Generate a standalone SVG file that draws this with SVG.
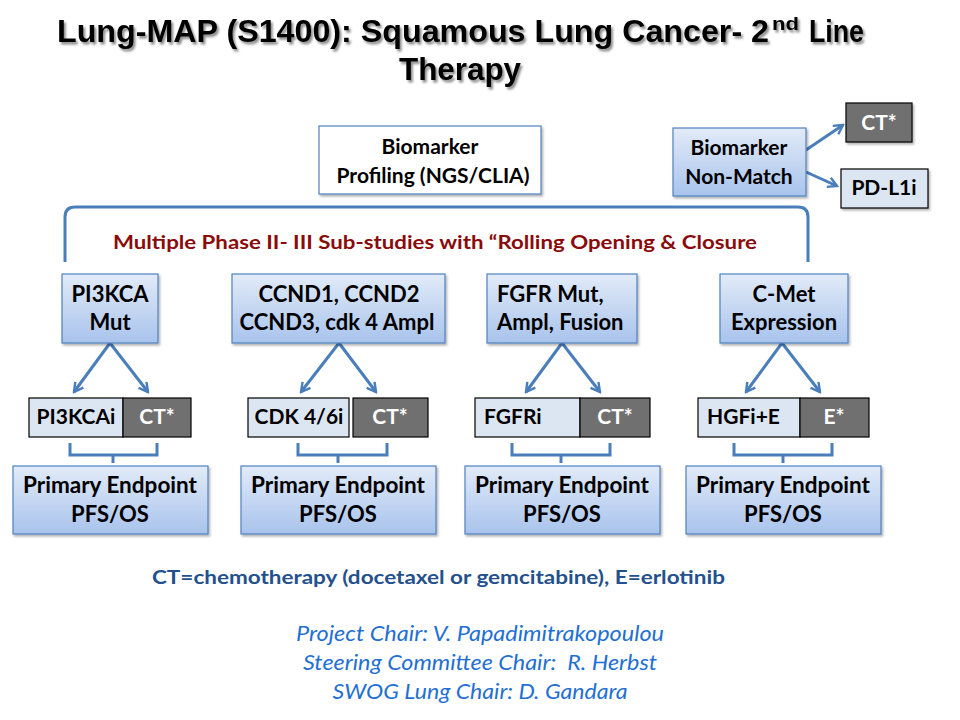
<svg xmlns="http://www.w3.org/2000/svg" width="960" height="720" viewBox="0 0 960 720">
<defs>
<linearGradient id="gb" x1="0" y1="0" x2="0" y2="1">
<stop offset="0" stop-color="#e2ebf8"/>
<stop offset="1" stop-color="#a8c3ec"/>
</linearGradient>
<filter id="sh" x="-10%" y="-10%" width="130%" height="140%">
<feDropShadow dx="1.5" dy="2" stdDeviation="1.2" flood-color="#000" flood-opacity="0.3"/>
</filter>
<filter id="tsh" x="-5%" y="-20%" width="110%" height="150%">
<feDropShadow dx="2" dy="2.5" stdDeviation="1" flood-color="#000" flood-opacity="0.45"/>
</filter>
<marker id="ah" viewBox="0 0 12 12" refX="10" refY="6" markerWidth="12" markerHeight="12" markerUnits="userSpaceOnUse" orient="auto">
<path d="M1,1 L10,6 L1,11" fill="none" stroke="#4a7ebb" stroke-width="2.4" stroke-linejoin="miter"/>
</marker>
<style>
.t{font-family:"Lato","Liberation Sans",sans-serif;font-weight:bold;font-size:21px;fill:#000;text-anchor:middle}
.l{font-size:22px}
.s{text-anchor:start}
.w{fill:#fff}
.blue{fill:url(#gb);stroke:#4f81bd;stroke-width:1.2}
.wh{fill:#fff;stroke:#4f81bd;stroke-width:1.2}
.lt{fill:#dce6f2;stroke:#000;stroke-width:1.2}
.dk{fill:#707070;stroke:#000;stroke-width:1.2}
.con{fill:none;stroke:#4a7ebb;stroke-width:3}
</style>
</defs>
<rect width="960" height="720" fill="#fff"/>

<g id="title" filter="url(#tsh)" font-family="'Liberation Sans',Arial,sans-serif" font-weight="bold">
<text x="57" y="42" font-size="31" textLength="712" lengthAdjust="spacingAndGlyphs">Lung-MAP (S1400): Squamous Lung Cancer- 2</text>
<text x="772" y="30" font-size="18" textLength="27" lengthAdjust="spacingAndGlyphs">nd</text>
<text x="809" y="42" font-size="31" textLength="55" lengthAdjust="spacingAndGlyphs">Line</text>
<text x="460" y="80" font-size="31" text-anchor="middle" textLength="122" lengthAdjust="spacingAndGlyphs">Therapy</text>
</g>

<g id="connectors">
<path class="con" d="M65,262 V217 Q65,207 75,207 H798 Q808,207 808,217 V262"/>
<path class="con" d="M110,343 L74,392" marker-end="url(#ah)"/>
<path class="con" d="M110,343 L148,392" marker-end="url(#ah)"/>
<path class="con" d="M339,343 L301,392" marker-end="url(#ah)"/>
<path class="con" d="M339,343 L376,392" marker-end="url(#ah)"/>
<path class="con" d="M562,343 L526,392" marker-end="url(#ah)"/>
<path class="con" d="M562,343 L600,392" marker-end="url(#ah)"/>
<path class="con" d="M782,343 L746,392" marker-end="url(#ah)"/>
<path class="con" d="M782,343 L820,392" marker-end="url(#ah)"/>
<path class="con" d="M806,150 L843,125" marker-end="url(#ah)"/>
<path class="con" d="M806,172 L837,186" marker-end="url(#ah)"/>
<path class="con" d="M70,443 V455 H157 V443 M113,455 V463"/>
<path class="con" d="M298,443 V455 H387 V443 M338,455 V463"/>
<path class="con" d="M512,443 V455 H610 V443 M561,455 V463"/>
<path class="con" d="M734,443 V455 H832 V443 M783,455 V463"/>
</g>

<g id="profiling">
<rect class="wh" x="319" y="126" width="222" height="68" filter="url(#sh)"/>
<text class="t" x="430" y="154">Biomarker</text>
<text class="t" x="433" y="183">Profiling (NGS/CLIA)</text>
</g>
<g id="nonmatch">
<rect class="blue" x="673" y="128" width="133" height="68" filter="url(#sh)"/>
<text class="t" x="739" y="155">Biomarker</text>
<text class="t" x="739" y="184">Non-Match</text>
</g>
<g id="ct-top">
<rect class="dk" x="846" y="103" width="66" height="39" filter="url(#sh)"/>
<text class="t w" x="879" y="130">CT*</text>
</g>
<g id="pdl1i">
<rect x="841" y="169" width="87" height="39" fill="#dce6f2" stroke="#000" stroke-width="1.2" filter="url(#sh)"/>
<text class="t" x="884" y="195">PD-L1i</text>
</g>

<g id="substudies">
<text x="435" y="249" font-family="Lato,'Liberation Sans',sans-serif" font-weight="bold" font-size="18" fill="#8b0a0a" text-anchor="middle" textLength="644" lengthAdjust="spacingAndGlyphs">Multiple Phase II- III Sub-studies with “Rolling Opening &amp; Closure</text>
</g>

<g id="pi3kca">
<rect class="blue" x="62" y="274" width="96" height="69" filter="url(#sh)"/>
<text class="t l" x="110" y="302">PI3KCA</text>
<text class="t l" x="110" y="330">Mut</text>
</g>
<g id="ccnd">
<rect class="blue" x="232" y="274" width="213" height="69" filter="url(#sh)"/>
<text class="t l" x="339" y="302">CCND1, CCND2</text>
<text class="t l" x="337" y="330">CCND3, cdk 4 Ampl</text>
</g>
<g id="fgfr">
<rect class="blue" x="487" y="274" width="150" height="69" filter="url(#sh)"/>
<text class="t l s" x="497" y="302">FGFR Mut,</text>
<text class="t l s" x="497" y="330">Ampl, Fusion</text>
</g>
<g id="cmet">
<rect class="blue" x="720" y="274" width="128" height="69" filter="url(#sh)"/>
<text class="t l" x="784" y="302">C-Met</text>
<text class="t l" x="784" y="330">Expression</text>
</g>

<g id="arm1">
<rect class="lt" x="29" y="398" width="94" height="39"/>
<rect class="dk" x="123" y="398" width="68" height="39"/>
<text class="t" x="76" y="424">PI3KCAi</text>
<text class="t w" x="157" y="424">CT*</text>
</g>
<g id="arm2">
<rect class="lt" x="248" y="398" width="101" height="39"/>
<rect class="dk" x="353" y="398" width="75" height="39"/>
<text class="t" x="299" y="424">CDK 4/6i</text>
<text class="t w" x="390" y="424">CT*</text>
</g>
<g id="arm3">
<rect class="lt" x="475" y="398" width="105" height="39"/>
<rect class="dk" x="580" y="398" width="70" height="39"/>
<text class="t s" x="484" y="424">FGFRi</text>
<text class="t w" x="615" y="424">CT*</text>
</g>
<g id="arm4">
<rect class="lt" x="698" y="398" width="102" height="39"/>
<rect class="dk" x="800" y="398" width="69" height="39"/>
<text class="t s" x="707" y="424">HGFi+E</text>
<text class="t w" x="834" y="424">E*</text>
</g>

<g id="ep1">
<rect class="blue" x="13" y="466" width="195" height="68" filter="url(#sh)"/>
<text class="t l" x="110" y="493" textLength="174" lengthAdjust="spacingAndGlyphs">Primary Endpoint</text>
<text class="t l" x="110" y="522">PFS/OS</text>
</g>
<g id="ep2">
<rect class="blue" x="241" y="466" width="195" height="68" filter="url(#sh)"/>
<text class="t l" x="338" y="493" textLength="174" lengthAdjust="spacingAndGlyphs">Primary Endpoint</text>
<text class="t l" x="338" y="522">PFS/OS</text>
</g>
<g id="ep3">
<rect class="blue" x="465" y="466" width="195" height="68" filter="url(#sh)"/>
<text class="t l" x="562" y="493" textLength="174" lengthAdjust="spacingAndGlyphs">Primary Endpoint</text>
<text class="t l" x="562" y="522">PFS/OS</text>
</g>
<g id="ep4">
<rect class="blue" x="686" y="466" width="195" height="68" filter="url(#sh)"/>
<text class="t l" x="783" y="493" textLength="174" lengthAdjust="spacingAndGlyphs">Primary Endpoint</text>
<text class="t l" x="783" y="522">PFS/OS</text>
</g>

<g id="legend">
<text x="152" y="584" font-family="Lato,'Liberation Sans',sans-serif" font-weight="bold" font-size="18" fill="#24508e" textLength="573" lengthAdjust="spacingAndGlyphs">CT=chemotherapy (docetaxel or gemcitabine), E=erlotinib</text>
</g>
<g id="chairs" font-family="Lato,'Liberation Sans',sans-serif" font-style="italic" font-size="22" fill="#1f6fd4" text-anchor="middle">
<text x="480" y="641" textLength="368" lengthAdjust="spacingAndGlyphs">Project Chair: V. Papadimitrakopoulou</text>
<text x="480" y="670" textLength="354" lengthAdjust="spacingAndGlyphs" xml:space="preserve">Steering Committee Chair:  R. Herbst</text>
<text x="480" y="699" textLength="295" lengthAdjust="spacingAndGlyphs">SWOG Lung Chair: D. Gandara</text>
</g>
</svg>
